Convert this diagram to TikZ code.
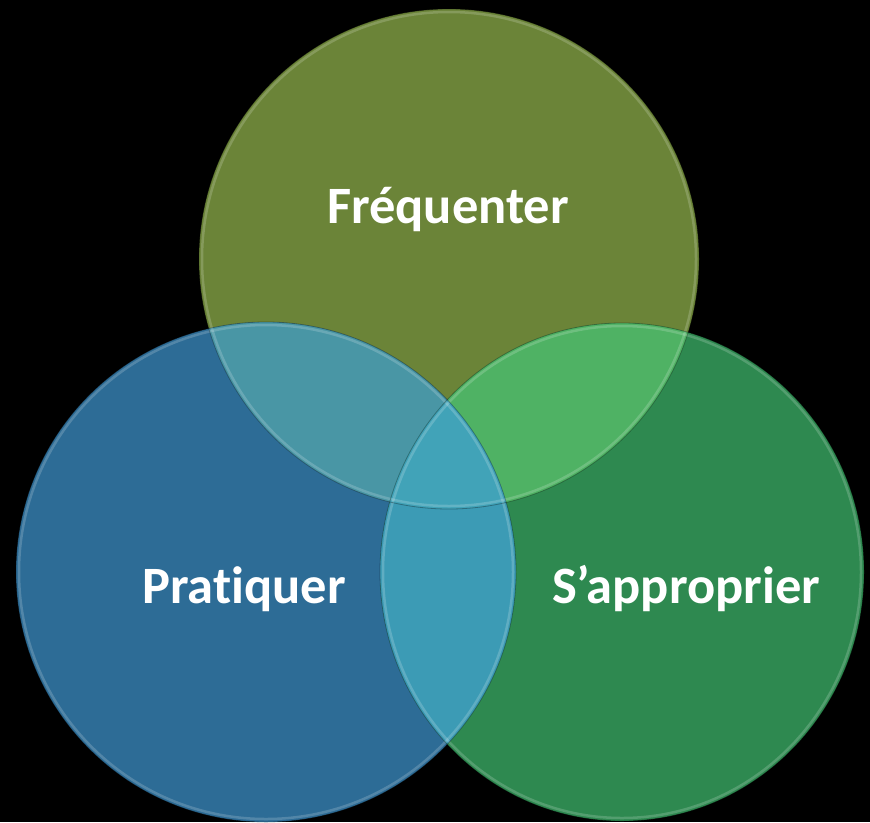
\documentclass[tikz,border=0pt]{standalone}
\usepackage{fontspec}
\setmainfont{Carlito}[Ligatures=NoCommon]
\definecolor{frqcol}{HTML}{6B8438}
\definecolor{prtcol}{HTML}{2D6C96}
\definecolor{appcol}{HTML}{2E8950}
\definecolor{frqprt}{HTML}{4996A5}
\definecolor{frqapp}{HTML}{4FB264}
\definecolor{prtapp}{HTML}{3C9BB5}
\definecolor{allcol}{HTML}{41A3B8}
\tikzset{
  venntext/.style={text=white,anchor=base,inner sep=0pt,font=\fontsize{52.5}{58}\selectfont\bfseries},
  rim/.style={line width=2.5pt,white,opacity=0.18},
  edge/.style={line width=0.8pt,black,opacity=0.3}
}
\def\circFrq{(449,259) circle (250pt)}
\def\circPrt{(266,572) circle (250pt)}
\def\circApp{(622,572) ellipse (242pt and 249pt)}
\begin{document}
\begin{tikzpicture}[x=1pt,y=-1pt]
    \fill[black] (0,0) rectangle (870,822);
    % three sets
    \fill[frqcol] \circFrq;
    \fill[prtcol] \circPrt;
    \fill[appcol] \circApp;
    % pairwise overlaps
    \begin{scope}
        \clip \circFrq;
        \fill[frqprt] \circPrt;
        \fill[frqapp] \circApp;
    \end{scope}
    \begin{scope}
        \clip \circPrt;
        \fill[prtapp] \circApp;
    \end{scope}
    \begin{scope}
        \clip \circFrq;
        \clip \circPrt;
        \fill[allcol] \circApp;
    \end{scope}
    % rims
    \draw[rim] (449,259) circle (247pt);
    \draw[rim] (266,572) circle (247pt);
    \draw[rim] (622,572) ellipse (239pt and 246pt);
    \draw[edge] \circFrq;
    \draw[edge] \circPrt;
    \draw[edge] \circApp;
    % labels
    \node[venntext] (frequenter) at (448,223) {Fréquenter};
    \node[venntext] (pratiquer) at (244,603) {Pratiquer};
    \node[venntext] (approprier) at (686,603) {S’approprier};
\end{tikzpicture}
\end{document}
